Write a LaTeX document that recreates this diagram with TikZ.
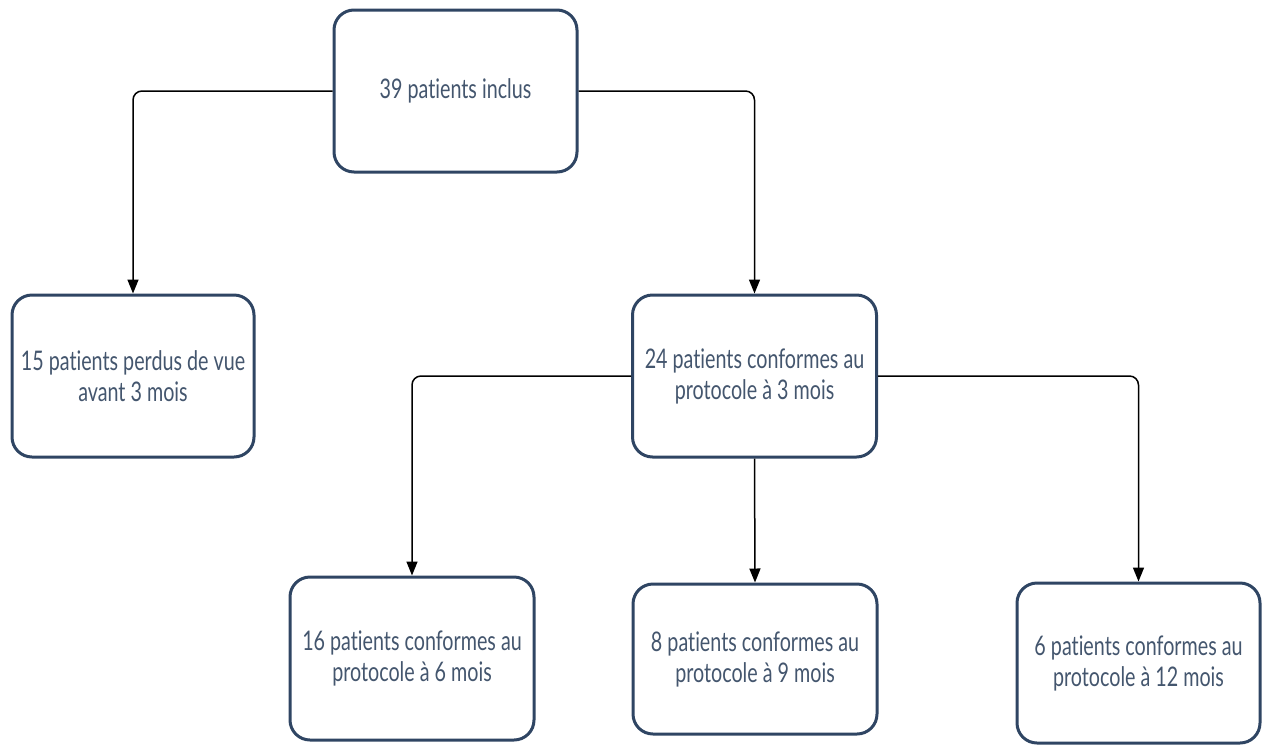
\documentclass[tikz,border=0pt]{standalone}
\usepackage{fontspec}
\setmainfont{Lato}[FakeStretch=0.73, Ligatures=NoCommon]
\usetikzlibrary{arrows.meta}
\definecolor{boxline}{HTML}{2F4563}
\definecolor{boxtext}{HTML}{44566E}
\tikzset{
  patbox/.style={draw=boxline, line width=3pt, rounded corners=20pt, fill=white,
    text=boxtext, align=center, inner sep=0pt,
    font=\fontsize{27}{31}\selectfont},
  flow/.style={line width=1.5pt, rounded corners=9pt,
    -{Triangle[length=14pt,width=11pt]}}
}
\begin{document}
\begin{tikzpicture}[x=1pt,y=-1pt]
  \useasboundingbox (0,0) rectangle (1264,745);
  \node[patbox, minimum width=243pt, minimum height=162pt] (incl) at (455.5,91) {39 patients inclus};
  \node[patbox, minimum width=242pt, minimum height=162pt] (lost) at (133,376) {15 patients perdus de vue\\avant 3 mois};
  \node[patbox, minimum width=244pt, minimum height=162pt] (m3) at (754.5,376) {24 patients conformes au\\protocole à 3 mois};
  \node[patbox, minimum width=244pt, minimum height=163pt] (m6) at (412,658.5) {16 patients conformes au\\protocole à 6 mois};
  \node[patbox, minimum width=244pt, minimum height=150pt] (m9) at (755,659) {8 patients conformes au\\protocole à 9 mois};
  \node[patbox, minimum width=243pt, minimum height=160pt] (m12) at (1138.5,663) {6 patients conformes au\\protocole à 12 mois};
  \draw[flow] (incl.west) -| (lost.north);
  \draw[flow] (incl.east) -| (m3.north);
  \draw[flow] (m3.west) -| (m6.north);
  \draw[flow] (m3.south) -- (m9.north);
  \draw[flow] (m3.east) -| (m12.north);
\end{tikzpicture}
\end{document}
